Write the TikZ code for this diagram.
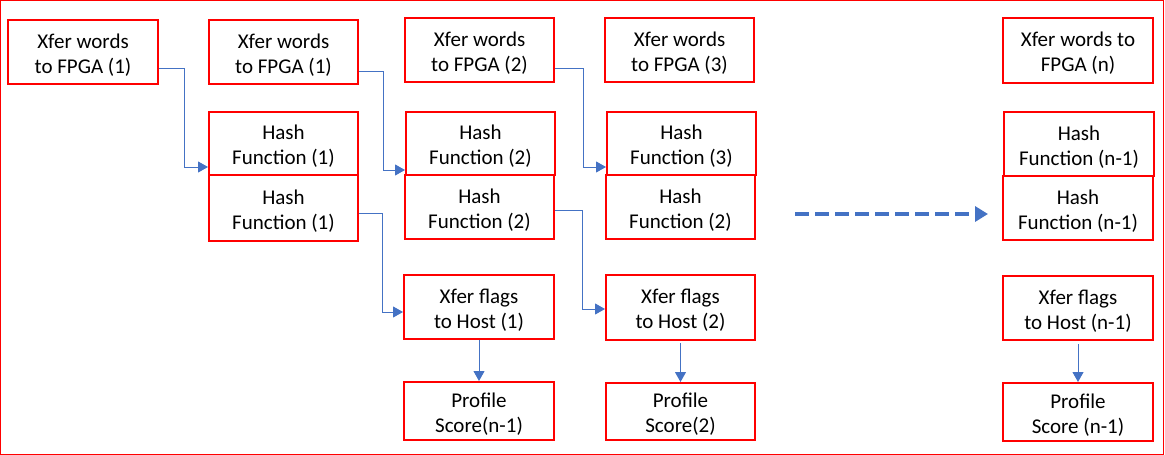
\documentclass[tikz,border=0pt]{standalone}
\usepackage{fontspec}
\setmainfont{Carlito}
\usetikzlibrary{arrows.meta}
\definecolor{boxred}{RGB}{255,0,0}
\definecolor{linkblue}{RGB}{68,114,196}
\begin{document}
\begin{tikzpicture}[x=1pt,y=-1pt,
  stagebox/.style={draw=boxred, line width=2pt, align=center, inner sep=0pt,
    minimum width=150pt, minimum height=64pt, text height=48pt, text depth=6pt,
    font=\fontsize{21}{25}\selectfont},
  conn/.style={draw=linkblue, line width=1pt, -{Triangle[length=10pt,width=11pt]}, color=linkblue},
  flow/.style={draw=linkblue, line width=4pt, dash pattern=on 14pt off 6pt,
    -{Triangle[length=13pt,width=15pt]}, color=linkblue}]
\useasboundingbox (0,0) rectangle (1165,455);
% outer frame
\draw[boxred, line width=1pt] (0.5,0.5) rectangle (1163,454);

% column 1
\node[stagebox] (a1) at (83,52) {Xfer words\\to FPGA (1)};

% column 2
\node[stagebox, minimum width=149pt] (b1) at (283.5,52) {Xfer words\\to FPGA (1)};
\node[stagebox, minimum width=149pt, minimum height=63pt] (b2) at (283.5,143.5) {Hash\\Function (1)};
\node[stagebox, minimum width=149pt, minimum height=66pt] (b3) at (283.5,208) {Hash\\Function (1)};

% column 3
\node[stagebox, minimum width=149pt] (c1) at (479.5,50) {Xfer words\\to FPGA (2)};
\node[stagebox, minimum width=149pt, minimum height=63pt] (c2) at (480.5,143.5) {Hash\\Function (2)};
\node[stagebox, minimum width=149pt] (c3) at (479.5,207) {Hash\\Function (2)};
\node[stagebox] (c4) at (479,307) {Xfer flags\\to Host (1)};
\node[stagebox, minimum height=58pt] (c5) at (479,411) {Profile\\Score(n-1)};

% column 4
\node[stagebox, minimum width=149pt] (d1) at (679.5,50) {Xfer words\\to FPGA (3)};
\node[stagebox, minimum width=149pt, minimum height=63pt] (d2) at (681.5,143.5) {Hash\\Function (3)};
\node[stagebox, minimum width=149pt] (d3) at (680.5,207) {Hash\\Function (2)};
\node[stagebox, minimum width=149pt, minimum height=65pt] (d4) at (680.5,307.5) {Xfer flags\\to Host (2)};
\node[stagebox, minimum width=149pt, minimum height=57pt] (d5) at (680.5,411.5) {Profile\\Score(2)};

% last column
\node[stagebox, minimum height=65pt] (e1) at (1078,50.5) {Xfer words to\\FPGA (n)};
\node[stagebox] (e2) at (1079,144) {Hash\\Function (n-1)};
\node[stagebox] (e3) at (1078,208) {Hash\\Function (n-1)};
\node[stagebox] (e4) at (1078,308) {Xfer flags\\to Host (n-1)};
\node[stagebox, minimum height=58pt] (e5) at (1078,412) {Profile\\Score (n-1)};

% stage hand-offs
\draw[conn] ([yshift=-16pt]a1.east) -- ++(25,0) |- ([yshift=-23.5pt]b2.west);
\draw[conn] ([yshift=-19pt]b1.east) -- ++(24,0) |- ([yshift=-26.5pt]c2.west);
\draw[conn] ([yshift=-5pt]b3.east) -- ++(23,0) |- ([yshift=-5pt]c4.west);
\draw[conn] ([yshift=-18pt]c1.east) -- ++(28,0) |- ([yshift=-23.5pt]d2.west);
\draw[conn] ([yshift=-3pt]c3.east) -- ++(27,0) |- ([yshift=-1.5pt]d4.west);
\draw[conn] (c4.south) -- (c5.north);
\draw[conn] ([yshift=-2pt]d4.south) -- (d5.north);
\draw[conn] ([yshift=-3pt]e4.south) -- (e5.north);

% continuation to stage n
\coordinate (gapstart) at (795,214);
\coordinate (gapend) at (988,214);
\draw[flow] (gapstart) -- (gapend);
\end{tikzpicture}
\end{document}
